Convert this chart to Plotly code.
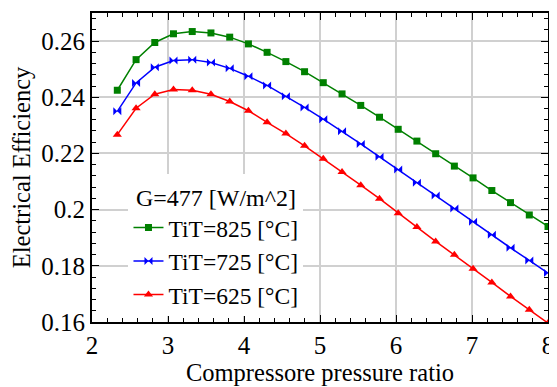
import plotly.graph_objects as go

pressure_ratio = [2.333, 2.580, 2.826, 3.072, 3.319, 3.565, 3.812, 4.058, 4.304, 4.551,
                  4.797, 5.043, 5.290, 5.536, 5.783, 6.029, 6.275, 6.522, 6.768, 7.014,
                  7.261, 7.507, 7.754, 8.000]

eff_825 = [0.2425, 0.2534, 0.2595, 0.2626, 0.2634, 0.2629, 0.2614, 0.2590, 0.2560, 0.2527,
           0.2491, 0.2452, 0.2412, 0.2371, 0.2329, 0.2286, 0.2244, 0.2199, 0.2155, 0.2113,
           0.2068, 0.2025, 0.1981, 0.1940]
eff_725 = [0.2350, 0.2451, 0.2507, 0.2531, 0.2534, 0.2524, 0.2503, 0.2475, 0.2442, 0.2404,
           0.2364, 0.2322, 0.2279, 0.2234, 0.2188, 0.2143, 0.2096, 0.2050, 0.2004, 0.1957,
           0.1911, 0.1864, 0.1819, 0.1774]
eff_625 = [0.2267, 0.2361, 0.2411, 0.2428, 0.2425, 0.2411, 0.2385, 0.2352, 0.2311, 0.2271,
           0.2227, 0.2181, 0.2134, 0.2087, 0.2039, 0.1987, 0.1938, 0.1887, 0.1839, 0.1790,
           0.1741, 0.1691, 0.1644, 0.1596]

series_names = ["TiT=825 [°C]", "TiT=725 [°C]", "TiT=625 [°C]"]
legend_title = "G=477 [W/m^2]"
x_title = "Compressore pressure ratio"
y_title = "Electrical Efficiency"

FONT = "Liberation Serif"

fig = go.Figure()
styles = [("green", "square", 7), ("blue", "bowtie", 8), ("red", "triangle-up", 8)]
for name, ys, (col, sym, sz) in zip(series_names, [eff_825, eff_725, eff_625], styles):
    fig.add_trace(go.Scatter(
        x=pressure_ratio, y=ys, name=name, mode="lines+markers",
        line=dict(color=col, width=1.5),
        marker=dict(color=col, symbol=sym, size=sz, line=dict(width=0)),
    ))

axis_common = dict(
    showline=True, linecolor="black", linewidth=2, mirror="ticks",
    ticks="inside", ticklen=7, tickcolor="black", tickwidth=1,
    showgrid=True, gridcolor="#d0d0d0", gridwidth=1.5,
    zeroline=False, ticklabeloverflow="allow",
    tickfont=dict(family=FONT, size=25, color="black"),
)

fig.update_xaxes(
    range=[2, 8], dtick=1, tick0=2,
    title=dict(text=x_title, font=dict(family=FONT, size=24.5, color="black"), standoff=2),
    minor=dict(ticks="inside", dtick=0.2, ticklen=4, tickcolor="black", showgrid=False),
    **axis_common,
)
fig.update_yaxes(
    range=[0.16, 0.27], dtick=0.02, tick0=0.16,
    title=dict(text=y_title, font=dict(family=FONT, size=24.5, color="black"), standoff=4),
    minor=dict(ticks="inside", dtick=0.004, ticklen=4, tickcolor="black", showgrid=False),
    **axis_common,
)

# page body adds an 8px margin, so the figure is shrunk and shifted to compensate
fig.update_layout(
    width=549, height=379,
    margin=dict(l=84, r=5, t=3, b=65),
    plot_bgcolor="white", paper_bgcolor="white",
    font=dict(family=FONT, size=25, color="black"),
    legend=dict(
        x=0.08, y=0.018, xanchor="left", yanchor="bottom",
        bgcolor="white", borderwidth=0,
        title=dict(text=legend_title, side="top center", font=dict(family=FONT, size=24)),
        font=dict(family=FONT, size=23.5),
        tracegroupgap=0, itemwidth=30,
    ),
)

fig.write_html("out.html")
